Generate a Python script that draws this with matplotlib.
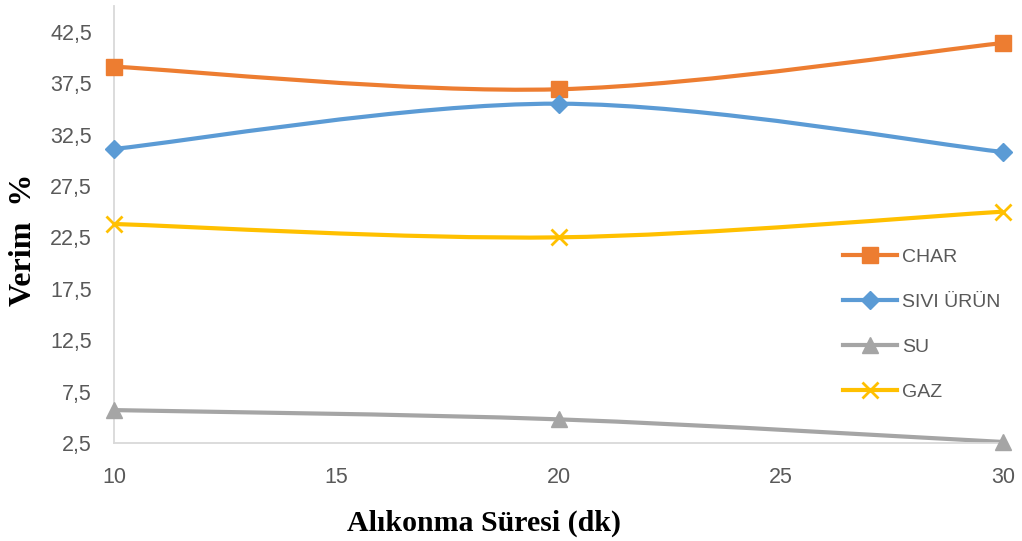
import numpy as np
import matplotlib.pyplot as plt
from matplotlib.path import Path
from matplotlib.patches import PathPatch
from matplotlib.lines import Line2D

# data
sure = [10, 20, 30]
char = [39.1, 36.9, 41.4]
sivi_urun = [31.1, 35.5, 30.8]
su = [5.7, 4.8, 2.6]
gaz = [23.8, 22.5, 25.0]

series = [
    ("CHAR", char, "#ED7D31", "s", 12),
    ("SIVI ÜRÜN", sivi_urun, "#5B9BD5", "D", 9.5),
    ("SU", su, "#A5A5A5", "^", 12),
    ("GAZ", gaz, "#FFC000", "x", 11),
]

yticks = [2.5, 7.5, 12.5, 17.5, 22.5, 27.5, 32.5, 37.5, 42.5]
xticks = [10, 15, 20, 25, 30]


# excel-like smoothed line: catmull-rom turned into bezier segments
def smooth_path(xs, ys):
    pts = np.column_stack([xs, ys]).astype(float)
    verts = [pts[0]]
    codes = [Path.MOVETO]
    n = len(pts)
    for i in range(n - 1):
        p0 = pts[i - 1] if i > 0 else pts[i]
        p1 = pts[i]
        p2 = pts[i + 1]
        p3 = pts[i + 2] if i + 2 < n else pts[i + 1]
        c1 = p1 + (p2 - p0) / 6.0
        c2 = p2 - (p3 - p1) / 6.0
        verts += [c1, c2, p2]
        codes += [Path.CURVE4] * 3
    return Path(verts, codes)


plt.rcParams['font.family'] = ['Liberation Sans', 'DejaVu Sans']

fig = plt.figure(figsize=(10.22, 5.41), dpi=100)
ax = fig.add_axes([114 / 1022, 98 / 541, (1003 - 114) / 1022, 437 / 541])

handles = []
for name, vals, col, mk, ms in series:
    patch = PathPatch(smooth_path(sure, vals), facecolor="none", edgecolor=col,
                      lw=3, capstyle="round", zorder=2)
    ax.add_patch(patch)
    kw = dict(mew=2) if mk == "x" else {}
    ax.plot(sure, vals, ls="none", marker=mk, ms=ms, color=col,
            zorder=3, clip_on=False, **kw)
    handles.append(Line2D([], [], color=col, lw=3, marker=mk, ms=ms, **kw))

ax.set_xlim(10, 30)
ax.set_ylim(2.5, 45)
ax.set_xticks(xticks)
ax.set_xticklabels([str(t) for t in xticks])
ax.set_yticks(yticks)
ax.set_yticklabels([str(t).replace(".", ",") for t in yticks])
ax.tick_params(length=0, labelsize=15.5, labelcolor="#595959")
ax.tick_params(axis="x", pad=17)
ax.tick_params(axis="y", pad=16)

for s in ["top", "right"]:
    ax.spines[s].set_visible(False)
for s in ["left", "bottom"]:
    ax.spines[s].set_color("#D9D9D9")
    ax.spines[s].set_linewidth(1.3)

ax.set_ylabel("Verim  %", family="Liberation Serif", fontweight="bold",
              fontsize=23)
ax.yaxis.set_label_coords(-0.085, 0.465)
ax.set_xlabel("Alıkonma Süresi (dk)", family="Liberation Serif",
              fontweight="bold", fontsize=21.5)
ax.xaxis.set_label_coords(0.416, -0.152)

leg = ax.legend(handles, [s[0] for s in series], loc="center left",
                bbox_to_anchor=(0.82, 0.271), frameon=False, fontsize=14,
                labelspacing=1.42, handlelength=2.8, handletextpad=0.25,
                borderaxespad=0, borderpad=0)
for t in leg.get_texts():
    t.set_color("#595959")

fig.savefig("out.png", dpi=100)
